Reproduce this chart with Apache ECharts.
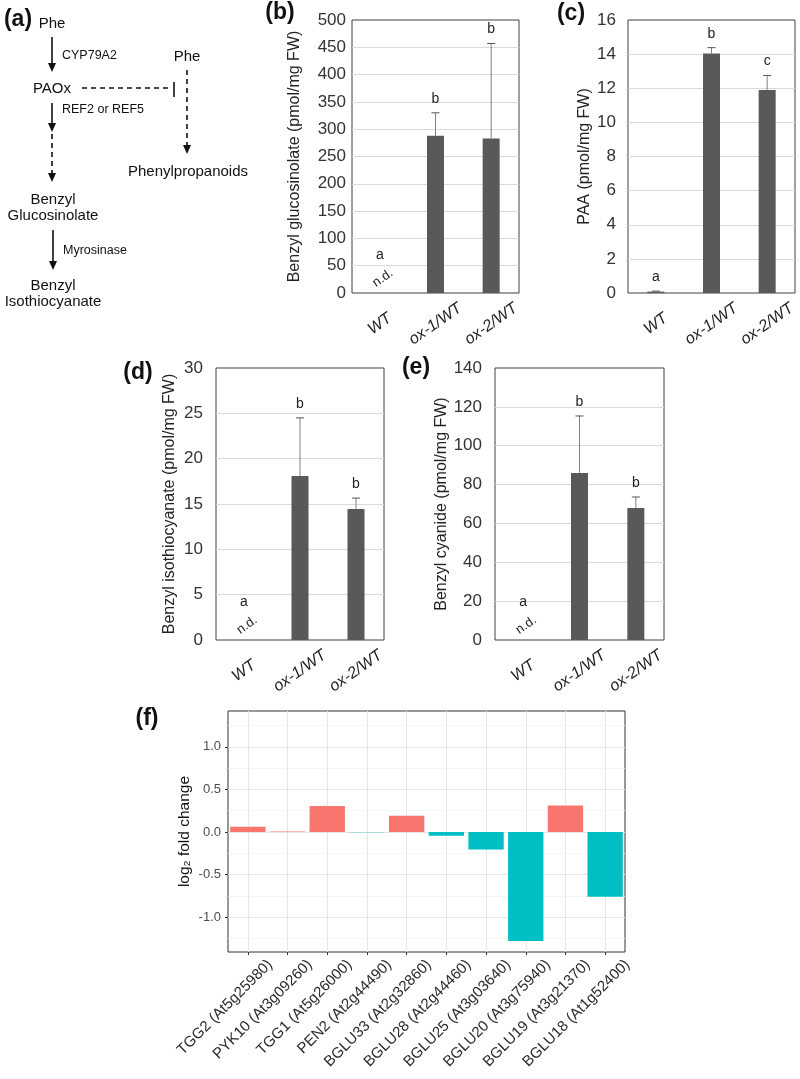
<!DOCTYPE html>
<html><head><meta charset="utf-8">
<script src="https://cdn.jsdelivr.net/npm/echarts@6/dist/echarts.min.js"></script>
<style>html,body{margin:0;padding:0;background:#fff}#c{width:800px;height:1079px}</style>
</head><body><div id="c"></div>
<script>
// ---------- data ----------
const groups = ['WT', 'ox-1/WT', 'ox-2/WT'];

const glsMean = [null, 288, 283];      // Benzyl glucosinolate (null = n.d.)
const glsErr = [null, 42, 174];
const glsLetters = ['a', 'b', 'b'];

const paaMean = [0.08, 14.03, 11.9];   // PAA
const paaErr = [0.03, 0.35, 0.85];
const paaLetters = ['a', 'b', 'c'];

const bitcMean = [null, 18.1, 14.45];  // Benzyl isothiocyanate
const bitcErr = [null, 6.4, 1.2];
const bitcLetters = ['a', 'b', 'b'];

const bcnMean = [null, 86, 67.9];      // Benzyl cyanide
const bcnErr = [null, 29.3, 5.7];
const bcnLetters = ['a', 'b', 'b'];

const genes = ['TGG2 (At5g25980)', 'PYK10 (At3g09260)', 'TGG1 (At5g26000)', 'PEN2 (At2g44490)',
  'BGLU33 (At2g32860)', 'BGLU28 (At2g44460)', 'BGLU25 (At3g03640)', 'BGLU20 (At3g75940)',
  'BGLU19 (At3g21370)', 'BGLU18 (At1g52400)'];
const log2fc = [0.06, 0.004, 0.305, -0.005, 0.19, -0.045, -0.205, -1.28, 0.31, -0.76];
const minorGrid = [-1.25, -0.75, -0.25, 0.25, 0.75, 1.25];

// ---------- style ----------
const FONT = '"Liberation Sans", Arial, Helvetica, sans-serif';
const INK = '#222';

const panels = [
  { mean: glsMean, err: glsErr, letters: glsLetters, name: 'Benzyl glucosinolate (pmol/mg FW)', max: 500, interval: 50,
    grid: { left: 352, top: 20, width: 167, height: 273 }, nameGap: 49, labelMargin: 6 },
  { mean: paaMean, err: paaErr, letters: paaLetters, name: 'PAA (pmol/mg FW)', max: 16, interval: 2,
    grid: { left: 628, top: 20, width: 167, height: 273 }, nameGap: 35, labelMargin: 12 },
  { mean: bitcMean, err: bitcErr, letters: bitcLetters, name: 'Benzyl isothiocyanate (pmol/mg FW)', max: 30, interval: 5,
    grid: { left: 216, top: 368, width: 168, height: 272 }, nameGap: 38, labelMargin: 13 },
  { mean: bcnMean, err: bcnErr, letters: bcnLetters, name: 'Benzyl cyanide (pmol/mg FW)', max: 140, interval: 20,
    grid: { left: 495, top: 368, width: 169, height: 272 }, nameGap: 42, labelMargin: 13 }
];

function annot(letters) {
  return function (params, api) {
    const i = api.value(0), m = api.value(1), e = api.value(2), nd = api.value(3);
    const base = api.coord([i, 0]);
    const kids = [];
    const letter = letters[params.dataIndex];
    if (nd) {
      kids.push({ type: 'text', x: base[0], y: base[1] - 38,
        style: { text: letter, fontSize: 14, fontFamily: FONT, fill: INK, align: 'center', verticalAlign: 'middle', textAlign: 'center', textVerticalAlign: 'middle' } });
      kids.push({ type: 'text', x: base[0] + 3, y: base[1] - 15, rotation: 35 * Math.PI / 180,
        style: { text: 'n.d.', fontSize: 13, fontFamily: FONT, fill: INK, align: 'center', verticalAlign: 'middle', textAlign: 'center', textVerticalAlign: 'middle' } });
    } else {
      const p0 = api.coord([i, m]), p1 = api.coord([i, m + e]);
      kids.push({ type: 'line', shape: { x1: p0[0], y1: p0[1], x2: p1[0], y2: p1[1] }, style: { stroke: '#808080', lineWidth: 1 } });
      kids.push({ type: 'line', shape: { x1: p1[0] - 4, y1: p1[1], x2: p1[0] + 4, y2: p1[1] }, style: { stroke: '#555', lineWidth: 1 } });
      kids.push({ type: 'text', x: p1[0], y: p1[1] - 14,
        style: { text: letter, fontSize: 14, fontFamily: FONT, fill: INK, align: 'center', verticalAlign: 'middle', textAlign: 'center', textVerticalAlign: 'middle' } });
    }
    return { type: 'group', children: kids };
  };
}

const grid = [], xAxis = [], yAxis = [], series = [];
panels.forEach((p, k) => {
  grid.push(Object.assign({ show: true, borderColor: '#404040', borderWidth: 1, backgroundColor: 'transparent' }, p.grid));
  xAxis.push({ type: 'category', gridIndex: k, data: groups,
    axisLine: { show: false }, axisTick: { show: false }, splitLine: { show: false },
    axisLabel: { interval: 0, rotate: 35, align: 'center', verticalAlign: 'middle', margin: 31,
      fontSize: 16, fontStyle: 'italic', color: INK, fontFamily: FONT } });
  yAxis.push({ type: 'value', gridIndex: k, min: 0, max: p.max, interval: p.interval,
    name: p.name, nameLocation: 'middle', nameGap: p.nameGap,
    nameTextStyle: { fontSize: 16, color: INK, fontFamily: FONT },
    axisLine: { show: false }, axisTick: { show: false },
    splitLine: { show: true, showMinLine: false, showMaxLine: false, lineStyle: { color: '#d9d9d9', width: 1 } },
    axisLabel: { fontSize: 17, color: '#333', margin: p.labelMargin, fontFamily: FONT } });
  series.push({ type: 'bar', xAxisIndex: k, yAxisIndex: k, data: p.mean, barWidth: 17, silent: true,
    itemStyle: { color: '#595959' }, z: 2 });
  series.push({ type: 'custom', xAxisIndex: k, yAxisIndex: k, silent: true, z: 3,
    data: p.mean.map((m, i) => [i, m == null ? 0 : m, p.err[i] == null ? 0 : p.err[i], m == null ? 1 : 0]),
    renderItem: annot(p.letters) });
});

// panel (f)
grid.push({ left: 228, top: 711, width: 397, height: 241, show: true, borderColor: '#333', borderWidth: 1, backgroundColor: 'transparent' });
xAxis.push({ type: 'category', gridIndex: 4, data: genes,
  axisLine: { show: false, onZero: false },
  axisTick: { show: true, alignWithLabel: true, length: 3, lineStyle: { color: '#333' } },
  splitLine: { show: false },
  axisLabel: { interval: 0, rotate: 45, align: 'right', verticalAlign: 'top', padding: [24, 0, 0, 0], margin: -12,
    fontSize: 15, color: '#2a2a2a', fontFamily: FONT } });
yAxis.push({ type: 'value', gridIndex: 4, min: -1.41, max: 1.42, splitNumber: 5,
  name: 'log₂ fold change', nameLocation: 'middle', nameGap: 35,
  nameTextStyle: { fontSize: 15.5, color: '#111', fontFamily: FONT },
  axisLine: { show: false },
  axisTick: { show: true, length: 3, lineStyle: { color: '#333' } },
  splitLine: { show: true, showMinLine: false, showMaxLine: false, lineStyle: { color: '#e6e6e6', width: 1 } },
  axisLabel: { showMinLabel: false, showMaxLabel: false, formatter: v => v.toFixed(1),
    fontSize: 13, color: '#4d4d4d', margin: 7, fontFamily: FONT } });
series.push({ type: 'bar', xAxisIndex: 4, yAxisIndex: 4, data: log2fc, barWidth: '89%', silent: true, z: 2,
  itemStyle: { color: p => p.value >= 0 ? '#F8766D' : '#00BFC4' },
  markLine: { silent: true, z: 1, symbol: 'none', label: { show: false },
    lineStyle: { color: '#e6e6e6', type: 'solid', width: 1 },
    data: genes.map(g => ({ xAxis: g })).concat(minorGrid.map(v => ({ yAxis: v, lineStyle: { color: '#f2f2f2', width: 0.8, type: 'solid' } }))) } });

// ---------- panel (a) diagram + panel letters ----------
function txt(s, x, y, size, align, weight) {
  return { type: 'text', x: x, y: y, z: 10, style: { text: s, fontSize: size, fontFamily: FONT, fontWeight: weight || 'normal', fill: '#111',
    align: align || 'center', verticalAlign: 'middle', textAlign: align || 'center', textVerticalAlign: 'middle' } };
}
function ln(x1, y1, x2, y2, dash) {
  return { type: 'line', z: 10, shape: { x1, y1, x2, y2 }, style: { stroke: '#111', lineWidth: 1.6, lineDash: dash ? [5, 4] : null } };
}
function head(x, y) {
  return { type: 'polygon', z: 10, shape: { points: [[x - 4, y - 9], [x + 4, y - 9], [x, y]] }, style: { fill: '#111' } };
}
const graphics = [
  txt('(a)', 18, 20, 23, 'center', 'bold'),
  txt('(b)', 280, 13, 23, 'center', 'bold'),
  txt('(c)', 571, 14, 23, 'center', 'bold'),
  txt('(d)', 138, 373, 23, 'center', 'bold'),
  txt('(e)', 416, 368, 23, 'center', 'bold'),
  txt('(f)', 147, 719, 23, 'center', 'bold'),
  txt('Phe', 52, 24, 15),
  ln(52, 37, 52, 64), head(52, 72),
  txt('CYP79A2', 62, 56, 12.5, 'left'),
  txt('PAOx', 52, 89, 15),
  ln(82, 88, 168, 88, true), ln(174, 82, 174, 97),
  txt('Phe', 187, 57, 15),
  ln(187, 70, 187, 146, true), head(187, 154),
  txt('Phenylpropanoids', 188, 172, 15),
  ln(52, 103, 52, 124), head(52, 132),
  ln(52, 134, 52, 174, true), head(52, 182),
  txt('REF2 or REF5', 62, 110, 12.5, 'left'),
  txt('Benzyl', 53, 200, 15),
  txt('Glucosinolate', 53, 216, 15),
  ln(53, 230, 53, 262), head(53, 270),
  txt('Myrosinase', 63, 251, 12.5, 'left'),
  txt('Benzyl', 53, 286, 15),
  txt('Isothiocyanate', 53, 302, 15)
];

const chart = echarts.init(document.getElementById('c'), null, { renderer: 'canvas' });
chart.setOption({
  animation: false,
  backgroundColor: '#fff',
  textStyle: { fontFamily: FONT },
  grid, xAxis, yAxis, series,
  graphic: { elements: graphics }
});
</script>
</body></html>
